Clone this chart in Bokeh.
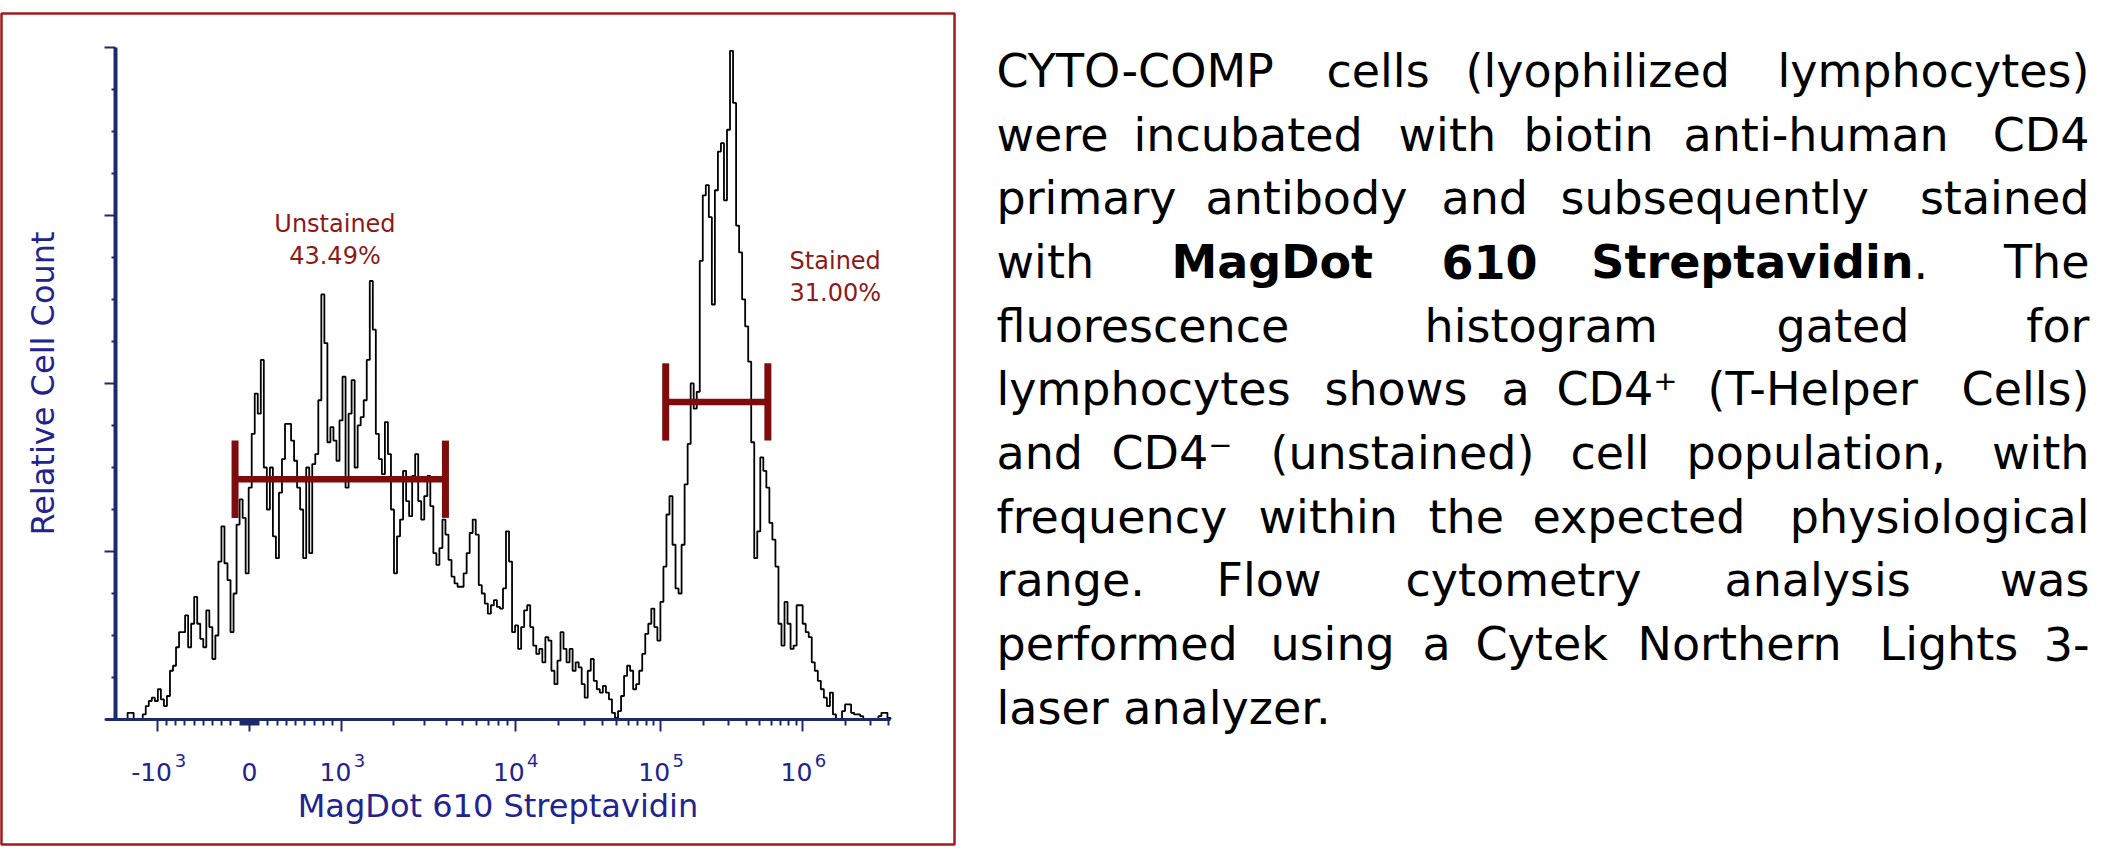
import numpy as np
from bokeh.plotting import figure
from bokeh.layouts import row
from bokeh.models import Range1d, FixedTicker, LinearAxis
from bokeh.core.properties import value
from bokeh.embed import file_html
from bokeh.resources import INLINE

# ---------------- data ----------------
bin_width = 4  # histogram bin width in display channels (0..1024)
counts = [
    0, 0, 0, 0, 4, 4, 0, 0, 0, 3, 8, 11, 13, 11, 18, 12,
    8, 14, 29, 32, 43, 52, 52, 62, 43, 57, 73, 57, 48, 43, 65, 55,
    36, 50, 94, 115, 93, 83, 52, 75, 116, 131, 120, 87, 138, 170, 194, 182,
    214, 150, 125, 150, 109, 96, 135, 155, 176, 176, 166, 154, 138, 125, 96, 150,
    99, 152, 158, 190, 253, 224, 165, 174, 166, 154, 178, 204, 138, 182, 202, 150,
    175, 180, 190, 214, 261, 232, 170, 155, 146, 177, 158, 125, 87, 109, 119, 148,
    130, 121, 145, 158, 130, 119, 133, 145, 127, 99, 92, 102, 119, 110, 95, 85,
    81, 79, 79, 87, 99, 111, 119, 110, 80, 75, 69, 63, 68, 71, 67, 66,
    78, 112, 94, 52, 56, 42, 55, 65, 68, 55, 44, 39, 42, 34, 49, 47,
    29, 21, 35, 52, 42, 34, 42, 29, 34, 31, 21, 13, 29, 36, 23, 18,
    16, 20, 16, 12, 4, 1, 5, 14, 26, 32, 29, 18, 21, 29, 39, 51,
    57, 66, 55, 47, 70, 91, 122, 133, 104, 78, 75, 104, 140, 164, 200, 185,
    195, 273, 312, 318, 299, 247, 315, 338, 343, 309, 351, 398, 367, 294, 278, 250,
    234, 213, 165, 96, 112, 156, 148, 138, 117, 107, 91, 57, 44, 70, 57, 42,
    44, 68, 68, 57, 52, 49, 34, 29, 23, 18, 13, 8, 16, 3, 0, 0,
    5, 9, 9, 4, 3, 3, 2, 0, 0, 0, 0, 0, 2, 4, 4, 1,
]

# logicle axis: decade positions in display channels
tick_value = [-1e3, 0, 1e3, 1e4, 1e5, 1e6]
tick_channel = [56, 177, 299, 528, 720, 908]
tick_base = ["-10", "0", "10", "10", "10", "10"]
tick_exp = ["3", "", "3", "4", "5", "6"]

y_major = [0, 100, 200, 300, 400]
y_minor = [25, 50, 75, 125, 150, 175, 225, 250, 275, 325, 350, 375]

gate_name = ["Unstained", "Stained"]
gate_pct = ["43.49%", "31.00%"]
gate_left = [158, 727]
gate_right = [436, 862]
gate_level = [143, 189]
gate_halfcap = 23
gate_label_x = [290, 951]
gate_label_y = [295, 273]
gate_pct_y = [276, 254]

para_lines = [
    ["CYTO-COMP", "cells", "(lyophilized", "lymphocytes)"],
    ["were", "incubated", "with", "biotin", "anti-human", "CD4"],
    ["primary", "antibody", "and", "subsequently", "stained"],
    ["with", "MagDot", "610", "Streptavidin", ".", "The"],
    ["fluorescence", "histogram", "gated", "for"],
    ["lymphocytes", "shows", "a", "CD4\u207a", "(T-Helper", "Cells)"],
    ["and", "CD4\u207b", "(unstained)", "cell", "population,", "with"],
    ["frequency", "within", "the", "expected", "physiological"],
    ["range.", "Flow", "cytometry", "analysis", "was"],
    ["performed", "using", "a", "Cytek", "Northern", "Lights", "3-"],
    ["laser analyzer."],
]
bold_words = {(3, 1), (3, 2), (3, 3)}

# ---------------- layout (page px) ----------------
para_x = [
    [1004, 1334, 1473, None],
    [1004, 1141, 1406, 1531, 1691, None],
    [1004, 1213, 1449, 1568, None],
    [1004, 1179, 1449, 1921, 1921, None],
    [1004, 1432, 1784, None],
    [1004, 1332, 1509, 1564, 1715, None],
    [1004, 1119, 1278, 1578, 1694, None],
    [1004, 1266, 1436, 1540, None],
    [1004, 1224, 1413, 1732, None],
    [1004, 1278, 1430, 1483, 1645, 1887, None],
    [1004],
]
para_right = 2097
para_base0 = 66.7
para_step = 64.8
px_per_channel = 1 / 1.3213
px_per_count = 1.68

# minor ticks on the logicle axis
def chan(v):
    if abs(v) <= 1000:
        return tick_channel[1] + v / 1000.0 * (tick_channel[2] - tick_channel[1])
    d = int(np.floor(np.log10(v)))
    i = tick_value.index(10.0 ** d)
    width = (tick_channel[i + 1] - tick_channel[i]) if i + 1 < len(tick_channel) else (tick_channel[-1] - tick_channel[-2])
    return tick_channel[i] + np.log10(v / 10.0 ** d) * width

minor = []
for v in list(range(-900, 0, 100)) + list(range(-90, 0, 10)) + list(range(10, 100, 10)) + list(range(100, 1000, 100)):
    minor.append(float(chan(v)))
for d in [1e3, 1e4, 1e5]:
    for m in range(2, 10):
        minor.append(float(chan(m * d)))
for m in [2, 3, 4]:
    minor.append(float(chan(m * 1e6)))

AX = "#1B2A6B"
LBL = "#23238E"
RED = "#8B1A1A"
GATE = "#7E0C0C"
FONT = "DejaVu Sans"

p = figure(width=956, height=846,
           x_range=Range1d(-150.6, 1108.6), y_range=Range1d(-74.4, 420.2),
           toolbar_location=None, output_backend="svg",
           min_border_left=1, min_border_right=2, min_border_top=13, min_border_bottom=2)
p.grid.visible = False
p.background_fill_color = "white"
p.outline_line_color = "#A01C1C"
p.outline_line_width = 2.5

edges = [bin_width * i for i in range(len(counts) + 1)]
p.step(edges, counts + [0], mode="after", line_color="black", line_width=1.8)

# gates
p.segment(x0=gate_left, y0=gate_level, x1=gate_right, y1=gate_level, line_color=GATE, line_width=6.5)
cap_x = gate_left + gate_right
cap_lv = gate_level + gate_level
p.segment(x0=cap_x, y0=[l - gate_halfcap for l in cap_lv], x1=cap_x, y1=[l + gate_halfcap for l in cap_lv],
          line_color=GATE, line_width=7)

p.text(x=gate_label_x, y=gate_label_y, text=gate_name, text_font=value(FONT),
       text_font_size="24px", text_color=RED, text_align="center", text_baseline="alphabetic")
p.text(x=gate_label_x, y=gate_pct_y, text=gate_pct, text_font=value(FONT),
       text_font_size="24px", text_color=RED, text_align="center", text_baseline="alphabetic")

# x axis (logicle scale, labels 10 with raised exponents)
xa = p.xaxis[0]
xa.fixed_location = 0
xa.bounds = (-13, 1024)
xa.ticker = FixedTicker(ticks=tick_channel, minor_ticks=minor)
xa.major_label_overrides = {c: (b + "\u2002" if e else b) for c, b, e in zip(tick_channel, tick_base, tick_exp)}
xa.axis_line_color = AX
xa.axis_line_width = 3
xa.major_tick_line_color = AX
xa.minor_tick_line_color = AX
xa.major_tick_line_width = 2
xa.minor_tick_line_width = 2
xa.major_tick_out = 12
xa.major_tick_in = 0
xa.minor_tick_out = 6
xa.minor_tick_in = 0
xa.major_label_text_font = FONT
xa.major_label_text_font_size = "25px"
xa.major_label_text_color = LBL
xa.major_label_standoff = 27
xa.axis_label = "MagDot 610 Streptavidin"
xa.axis_label_text_font = FONT
xa.axis_label_text_font_size = "32px"
xa.axis_label_text_font_style = "normal"
xa.axis_label_text_color = LBL
xa.axis_label_standoff = -4

exp_x, exp_t = [], []
for c, b, e in zip(tick_channel, tick_base, tick_exp):
    if e:
        exp_x.append(c + (17 if b.startswith("-") else 12) / px_per_channel)
        exp_t.append(e)
p.text(x=exp_x, y=[-(41 / px_per_count)] * len(exp_x), text=exp_t, text_font=value(FONT),
       text_font_size="18px", text_color=LBL, text_align="left", text_baseline="alphabetic")

# y axis: line + minor ticks + title
ya = p.yaxis[0]
ya.fixed_location = 0
ya.bounds = (0, 400)
ya.ticker = FixedTicker(ticks=[], minor_ticks=y_minor)
ya.axis_line_color = AX
ya.axis_line_width = 4
ya.minor_tick_line_color = AX
ya.minor_tick_line_width = 2
ya.minor_tick_out = 4
ya.minor_tick_in = 0
ya.axis_label = "Relative Cell Count"
ya.axis_label_text_font = FONT
ya.axis_label_text_font_size = "32px"
ya.axis_label_text_font_style = "normal"
ya.axis_label_text_color = LBL
ya.axis_label_standoff = 50

# y axis: long major ticks (no labels)
ya2 = LinearAxis(fixed_location=0, bounds=(0, 400), ticker=FixedTicker(ticks=[], minor_ticks=y_major),
                 axis_line_color=None, minor_tick_line_color=AX, minor_tick_line_width=2,
                 minor_tick_out=11, minor_tick_in=0)
p.add_layout(ya2, "left")

# paragraph
tp = figure(width=1151, height=846, x_range=Range1d(964, 2115), y_range=Range1d(854, 8),
            toolbar_location=None, output_backend="svg", min_border=0,
            x_axis_type=None, y_axis_type=None)
tp.grid.visible = False
tp.outline_line_color = None

groups = {"left_n": ([], [], []), "right_n": ([], [], []), "left_b": ([], [], []), "right_b": ([], [], [])}
for k, (words, xs) in enumerate(zip(para_lines, para_x)):
    yb = para_base0 + para_step * k
    for j, (w, xv) in enumerate(zip(words, xs)):
        bold = (k, j) in bold_words
        if xv is None:
            key, xx = "right", para_right
        elif (k, j) == (3, 3):
            key, xx = "right", xv
        else:
            key, xx = "left", xv
        key += "_b" if bold else "_n"
        groups[key][0].append(xx)
        groups[key][1].append(yb)
        groups[key][2].append(w)

for key, (xs, ys, ts) in groups.items():
    if not ts:
        continue
    tp.text(x=xs, y=ys, text=ts, text_font=value(FONT), text_font_size="46px",
            text_font_style="bold" if key.endswith("_b") else "normal",
            text_align="left" if key.startswith("left") else "right",
            text_baseline="alphabetic", text_color="black")

layout = row(p, tp, spacing=0)
open("out.html", "w").write(file_html(layout, INLINE, "MagDot 610 Streptavidin"))
